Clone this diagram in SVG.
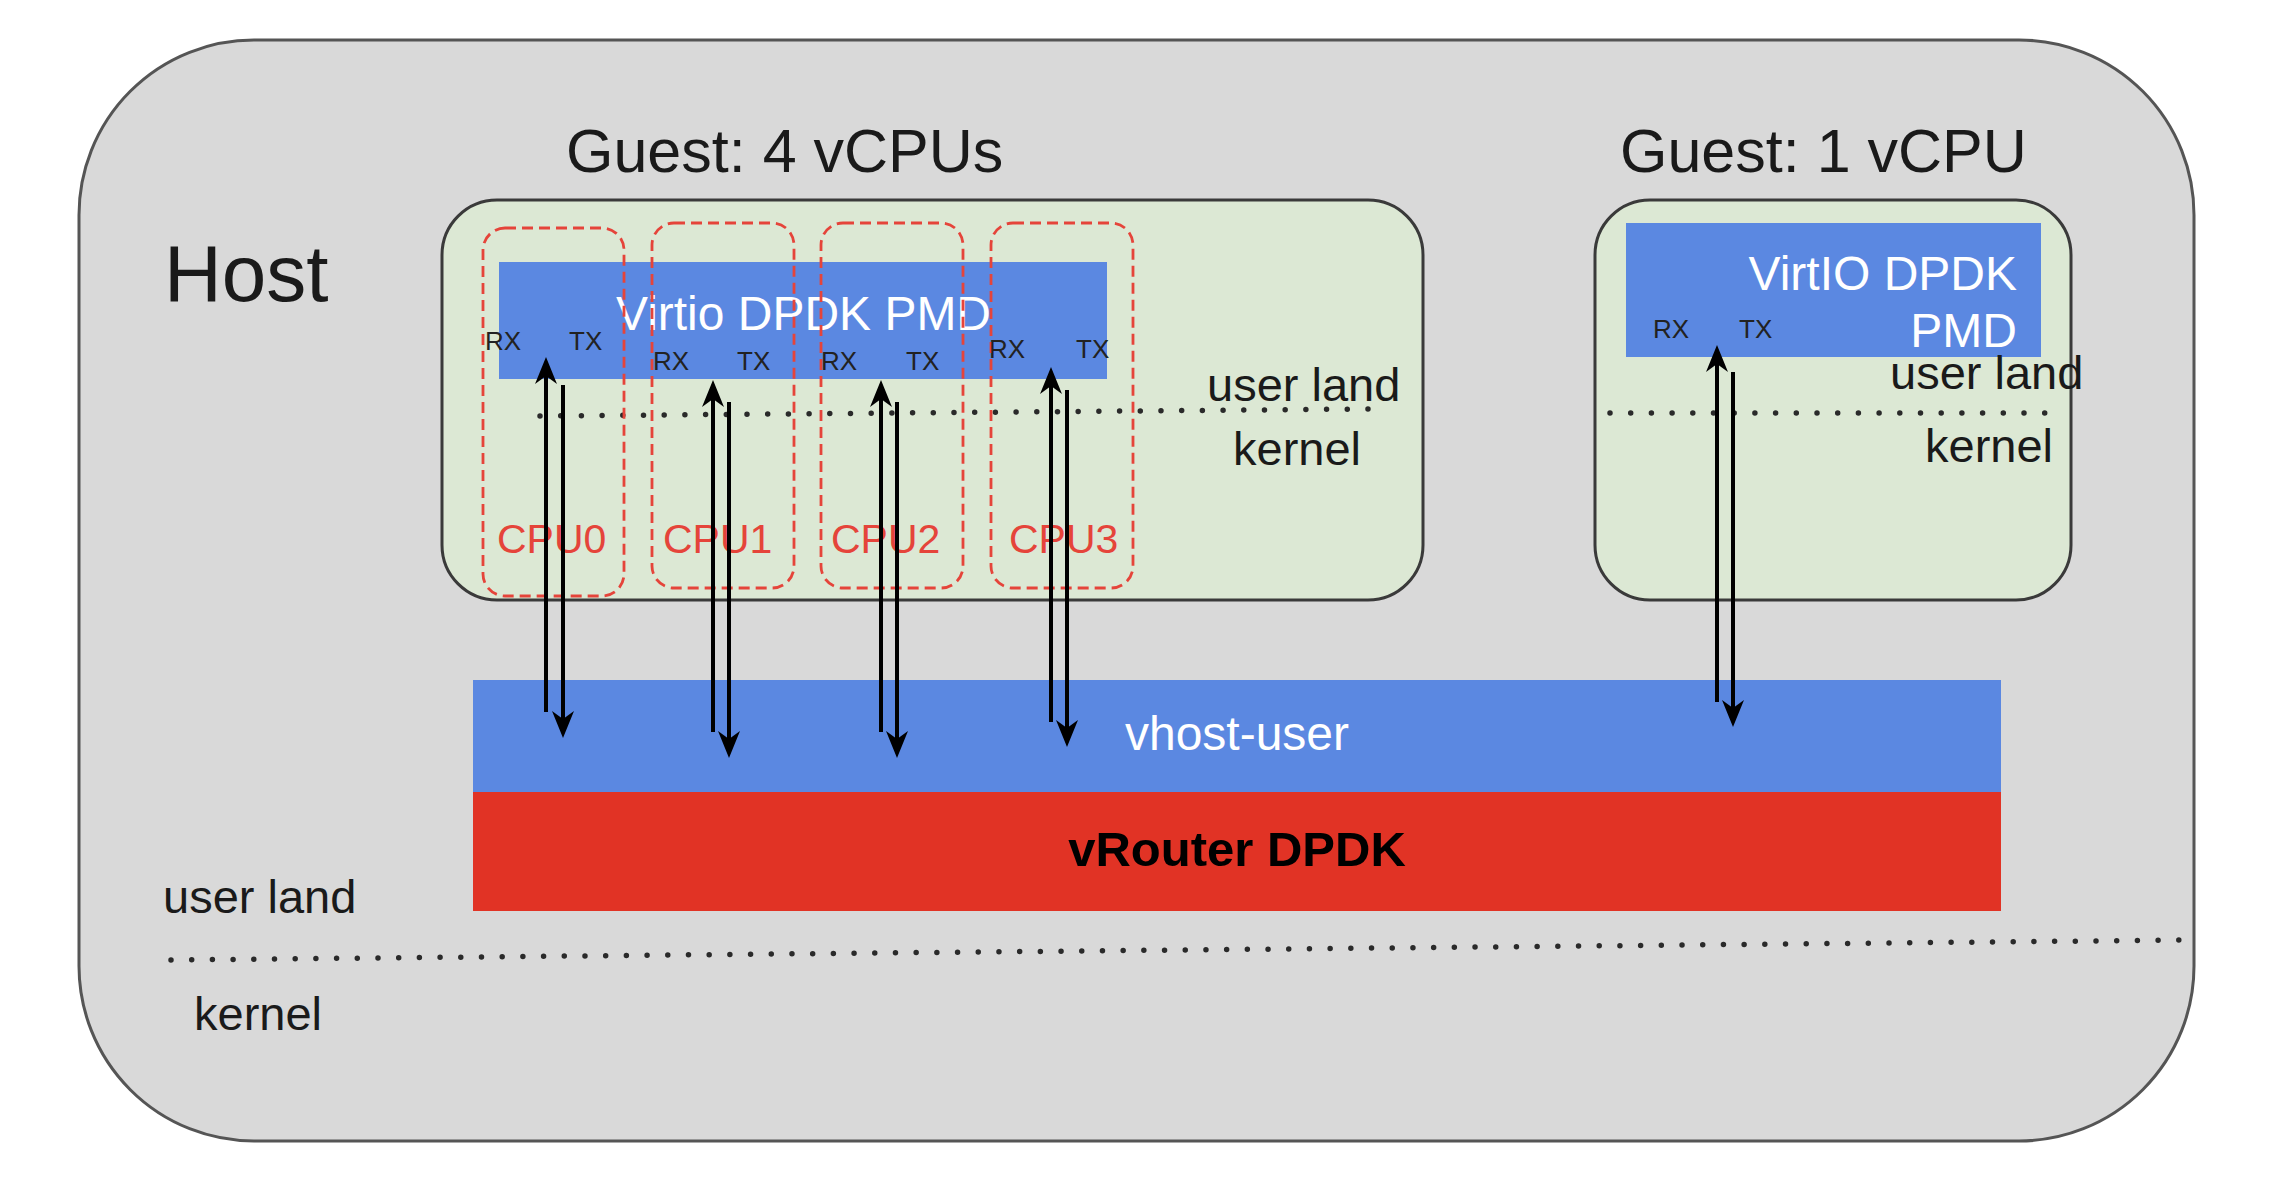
<svg xmlns="http://www.w3.org/2000/svg" width="2274" height="1182" viewBox="0 0 2274 1182">
<style>
text{font-family:"Liberation Sans",Arial,sans-serif;}
.lbl{fill:#1a1a1a;font-size:47px;}
.title{fill:#1a1a1a;font-size:61px;}
.rxtx{fill:#222;font-size:26px;}
.cpu{fill:#e5443a;font-size:41px;}
.white{fill:#ffffff;font-size:48px;}
.guest{fill:#dce8d4;stroke:#3a3a3a;stroke-width:3;}
.pmd{fill:#5b88e1;}
.cpubox{fill:none;stroke:#e5443a;stroke-width:2.8;stroke-dasharray:11 6;}
.dots{fill:none;stroke:#2a2a2a;stroke-width:5.5;stroke-linecap:round;stroke-dasharray:0 20.7;}
.arr{fill:none;stroke:#000;stroke-width:4;marker-end:url(#ah);}
</style>
<defs>
<marker id="ah" markerUnits="userSpaceOnUse" viewBox="-12 -12 30 24" markerWidth="30" markerHeight="24" refX="0" refY="0" orient="auto" overflow="visible">
<path d="M16,0 L-11,-11 L-3,0 L-11,11 Z" fill="#000"/>
</marker>
</defs>
<rect width="2274" height="1182" fill="#ffffff"/>
<g id="host">
<rect x="79" y="40" width="2115" height="1101" rx="175" ry="175" fill="#d9d9d9" stroke="#555" stroke-width="3"/>
<text class="lbl" x="164" y="301" style="font-size:80px">Host</text>
<text class="lbl" x="163" y="913">user land</text>
<text class="lbl" x="194" y="1030">kernel</text>
<path class="dots" d="M171,960 L2190,940"/>
</g>
<g id="guest4">
<text class="title" x="566" y="172">Guest: 4 vCPUs</text>
<rect class="guest" x="442" y="200" width="981" height="400" rx="55" ry="55"/>
<rect class="pmd" x="499" y="262" width="608" height="117"/>
<text class="white" x="616" y="330" textLength="375" lengthAdjust="spacingAndGlyphs">Virtio DPDK PMD</text>
<text class="lbl" x="1207" y="401">user land</text>
<text class="lbl" x="1233" y="465">kernel</text>
<path class="dots" d="M540,416 L1368,409"/>
</g>
<g id="cpu0">
<rect class="cpubox" x="483" y="228" width="141" height="368" rx="22" ry="22"/>
<text class="cpu" x="497" y="553">CPU0</text>
<text class="rxtx" x="485" y="350">RX</text>
<text class="rxtx" x="569" y="350">TX</text>
</g>
<g id="cpu1">
<rect class="cpubox" x="652" y="223" width="142" height="365" rx="22" ry="22"/>
<text class="cpu" x="663" y="553">CPU1</text>
<text class="rxtx" x="653" y="370">RX</text>
<text class="rxtx" x="737" y="370">TX</text>
</g>
<g id="cpu2">
<rect class="cpubox" x="821" y="223" width="142" height="365" rx="22" ry="22"/>
<text class="cpu" x="831" y="553">CPU2</text>
<text class="rxtx" x="821" y="370">RX</text>
<text class="rxtx" x="906" y="370">TX</text>
</g>
<g id="cpu3">
<rect class="cpubox" x="991" y="223" width="142" height="365" rx="22" ry="22"/>
<text class="cpu" x="1009" y="553">CPU3</text>
<text class="rxtx" x="989" y="358">RX</text>
<text class="rxtx" x="1076" y="358">TX</text>
</g>
<g id="guest1">
<text class="title" x="1620" y="172">Guest: 1 vCPU</text>
<rect class="guest" x="1595" y="200" width="476" height="400" rx="55" ry="55"/>
<rect class="pmd" x="1626" y="223" width="415" height="134"/>
<text class="white" x="2017" y="290" text-anchor="end">VirtIO DPDK</text>
<text class="white" x="2017" y="347" text-anchor="end">PMD</text>
<text class="rxtx" x="1653" y="338">RX</text>
<text class="rxtx" x="1739" y="338">TX</text>
<text class="lbl" x="1890" y="389">user land</text>
<text class="lbl" x="1925" y="462">kernel</text>
<path class="dots" d="M1610,413 L2050,413"/>
</g>
<g id="vhost">
<rect x="473" y="680" width="1528" height="112" fill="#5b88e1"/>
<text class="white" x="1237" y="750" text-anchor="middle" style="font-size:48px">vhost-user</text>
</g>
<g id="vrouter">
<rect x="473" y="792" width="1528" height="119" fill="#e13325"/>
<text x="1237" y="866" text-anchor="middle" style="font-size:49px;font-weight:bold;fill:#000">vRouter DPDK</text>
</g>
<g id="connectors">
<path class="arr" d="M546,712 L546,373"/>
<path class="arr" d="M563,385 L563,722"/>
<path class="arr" d="M713,732 L713,396"/>
<path class="arr" d="M729,402 L729,742"/>
<path class="arr" d="M881,732 L881,396"/>
<path class="arr" d="M897,402 L897,742"/>
<path class="arr" d="M1051,722 L1051,383"/>
<path class="arr" d="M1067,390 L1067,731"/>
<path class="arr" d="M1717,702 L1717,361"/>
<path class="arr" d="M1733,372 L1733,711"/>
</g>
</svg>
